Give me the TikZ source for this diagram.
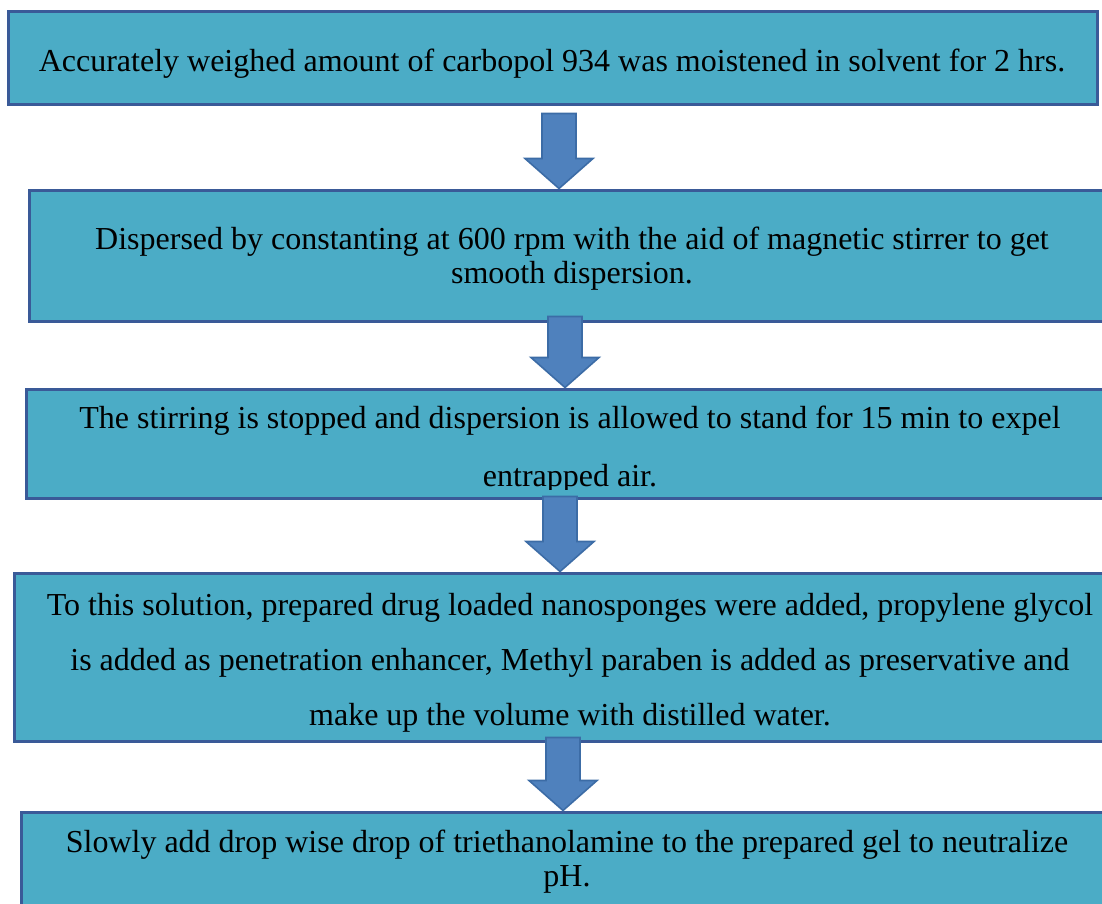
\documentclass[tikz,border=0pt]{standalone}
\usepackage{fontspec}
\setmainfont{Liberation Serif}
\usetikzlibrary{fit,calc}
\definecolor{boxfill}{HTML}{4BACC6}
\definecolor{boxline}{HTML}{3A5A98}
\definecolor{arrowfill}{HTML}{4F81BD}
\definecolor{arrowline}{HTML}{3C6CA6}
\newcommand{\flowarrow}[4]{%
\path (#3,0 |- #1.south) ++(0,#4) coordinate (atop);
\path (#3,0 |- #2.north) coordinate (atip);
\draw [arrowstyle] ($(atop)+(-17,0)$) -- ($(atop)+(17,0)$) -- ($(atip)+(17,-30)$) -- ($(atip)+(34,-30)$) -- (atip) -- ($(atip)+(-34,-30)$) -- ($(atip)+(-17,-30)$) -- cycle;}
\begin{document}
\begin{tikzpicture}[x=0.5pt,y=-0.5pt]
\tikzstyle{every node}+=[inner sep=0pt]
\tikzstyle{stepbox}=[draw=boxline, line width=1.5pt, fill=boxfill, inner sep=0pt]
\tikzstyle{steptext}=[align=center, text=black, font=\fontsize{16}{17}\selectfont]
\tikzstyle{arrowstyle}=[draw=arrowline, line width=0.8pt, fill=arrowfill, line join=miter]
\path [use as bounding box, fill=white] (0,0) rectangle (1102,904);
\node [stepbox, fit={(8,12) (1097,105)}] (s1) {};
\node [stepbox, fit={(29,190) (1115,321)}] (s2) {};
\node [stepbox, fit={(26,389) (1114,498)}] (s3) {};
\node [stepbox, fit={(14,573) (1126,741)}] (s4) {};
\node [stepbox, fit={(21,812) (1113,925)}] (s5) {};
\node [steptext] (t1) at (552,63.5) {Accurately weighed amount of carbopol 934 was moistened in solvent for 2 hrs.};
\node [steptext] (t2) at (572,259) {Dispersed by constanting at 600 rpm with the aid of magnetic stirrer to get\\smooth dispersion.};
\begin{scope}
\clip (s3.north west) rectangle ([yshift=5pt]s3.south east);
\node [steptext, font=\fontsize{16}{29}\selectfont] (t3) at (570,449.5) {The stirring is stopped and dispersion is allowed to stand for 15 min to expel\\entrapped air.};
\end{scope}
\node [steptext, font=\fontsize{16}{27.5}\selectfont] (t4) at (570,662.5) {To this solution, prepared drug loaded nanosponges were added, propylene glycol\\is added as penetration enhancer, Methyl paraben is added as preservative and\\make up the volume with distilled water.};
\node [steptext] (t5) at (567,861.5) {Slowly add drop wise drop of triethanolamine to the prepared gel to neutralize\\pH.};
\flowarrow{s1}{s2}{559}{7}
\flowarrow{s2}{s3}{565}{-6}
\flowarrow{s3}{s4}{560}{-3}
\flowarrow{s4}{s5}{563}{-5}
\end{tikzpicture}
\end{document}
